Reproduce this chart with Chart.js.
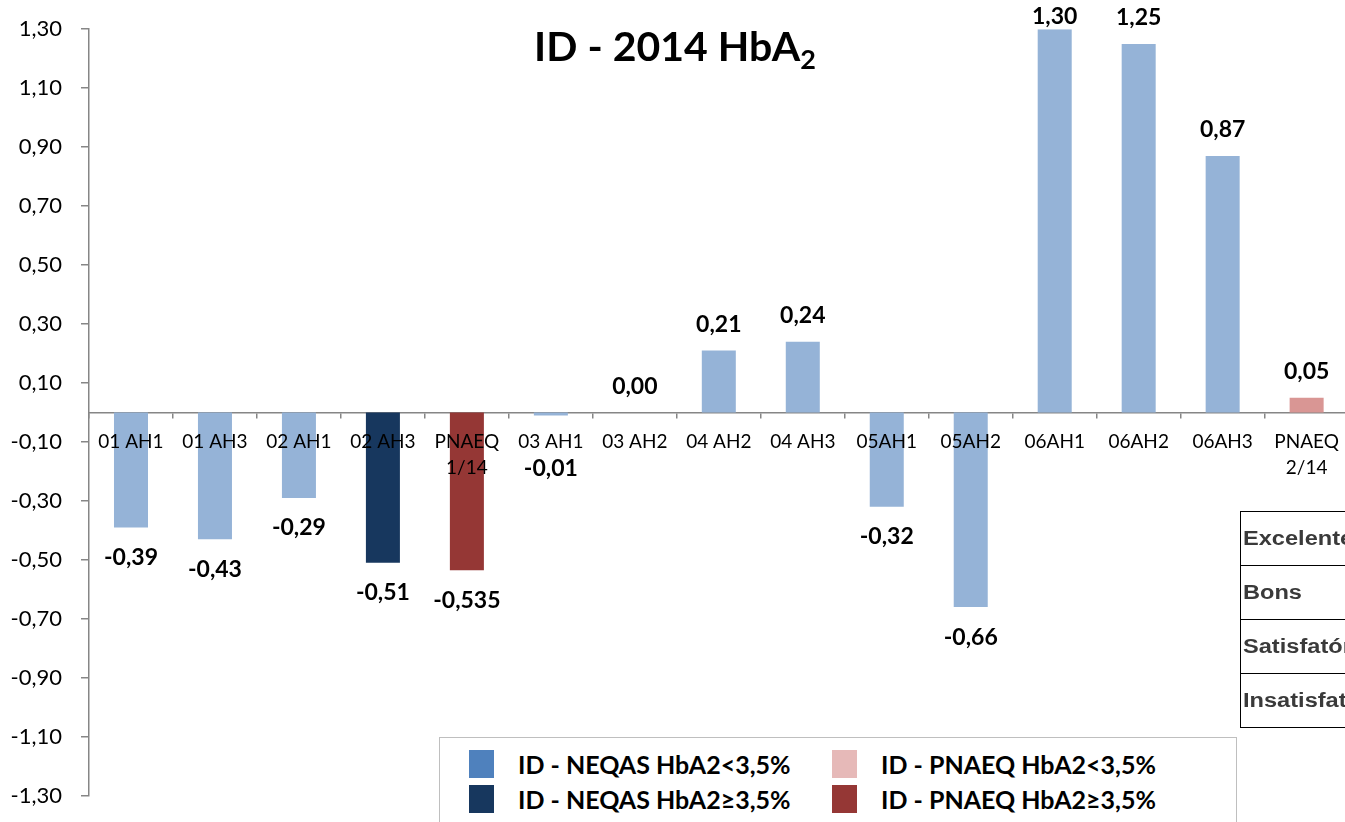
<!DOCTYPE html>
<html>
<head>
    <title>ID - 2014 HbA2</title>
    <script src="https://cdn.jsdelivr.net/npm/chart.js@4.4.1/dist/chart.umd.min.js"></script>
    <style>
        body {
            margin: 0;
            background: #fff;
            overflow: hidden;
            font-family: Lato, Arial, sans-serif;
        }
        .wrap {
            position: absolute;
            left: 0;
            top: -3px;
            width: 1350px;
            height: 831px;
        }
        .title {
            position: absolute;
            left: 0;
            width: 1350px;
            top: 21px;
            text-align: center;
            font: bold 41px Lato, sans-serif;
            color: #000;
            padding-right: 4px;
        }
        .title sub {
            font-size: 27px;
            vertical-align: -8px;
            line-height: 0;
        }
        .legend {
            position: absolute;
            left: 439px;
            top: 737px;
            width: 796px;
            height: 100px;
            border: 1.5px solid #bfbfbf;
            background: #fff;
        }
        .legend .item {
            position: absolute;
            font: bold 25px Lato, sans-serif;
            color: #000;
            white-space: nowrap;
            line-height: 28px;
        }
        .legend .sw {
            display: inline-block;
            width: 25px;
            height: 28px;
            vertical-align: top;
            margin-right: 24px;
        }
        .grades {
            position: absolute;
            left: 1240px;
            top: 511px;
            border-collapse: collapse;
        }
        .grades td {
            border: 1.5px solid #000;
            height: 53px;
            width: 220px;
            padding: 0 0 0 2px;
            font: bold 20px "Liberation Sans", Arial, sans-serif;
            color: #3a3a3a;
            white-space: nowrap;
        }
        .grades td span {
            display: inline-block;
            transform: scaleX(1.18);
            transform-origin: left center;
        }
    </style>
</head>
<body>
    <div class="wrap">
        <canvas id="chart"></canvas>
    </div>
    <div class="title">ID - 2014 HbA<sub>2</sub></div>
    <table class="grades" id="grades"></table>
    <div class="legend" id="legend"></div>

    <script>
        const categories = ['01 AH1', '01 AH3', '02 AH1', '02 AH3', ['PNAEQ', '1/14'], '03 AH1', '03 AH2',
            '04 AH2', '04 AH3', '05AH1', '05AH2', '06AH1', '06AH2', '06AH3', ['PNAEQ', '2/14']];

        const neqasLow  = [-0.39, -0.43, -0.29, null, null, -0.01, 0.00, 0.21, 0.24, -0.32, -0.66, 1.30, 1.25, 0.87, null];
        const neqasHigh = [null, null, null, -0.51, null, null, null, null, null, null, null, null, null, null, null];
        const pnaeqLow  = [null, null, null, null, null, null, null, null, null, null, null, null, null, null, 0.05];
        const pnaeqHigh = [null, null, null, null, -0.535, null, null, null, null, null, null, null, null, null, null];

        const seriesNames = ['ID - NEQAS HbA2<3,5%', 'ID - NEQAS HbA2≥3,5%', 'ID - PNAEQ HbA2<3,5%', 'ID - PNAEQ HbA2≥3,5%'];
        const barColors = ['#95b3d7', '#17375e', '#d99694', '#953735'];
        const legendColors = ['#4f81bd', '#17375e', '#e6b9b8', '#953735'];

        const grades = ['Excelente', 'Bons', 'Satisfatório', 'Insatisfatório'];

        const yMin = -1.3, yMax = 1.3, yStep = 0.2;

        function fmt(v) {
            const d = Math.abs(Math.round(v * 100) - v * 100) > 1e-6 ? 3 : 2;
            return v.toFixed(d).replace('.', ',');
        }

        // value labels at bar ends
        const valueLabels = {
            id: 'valueLabels',
            afterDatasetsDraw(chart) {
                const ctx = chart.ctx;
                const zero = chart.scales.y.getPixelForValue(0);
                ctx.save();
                ctx.font = 'bold 23px Lato, sans-serif';
                ctx.fillStyle = '#000';
                ctx.textAlign = 'center';
                ctx.textBaseline = 'middle';
                chart.data.datasets.forEach((ds, i) => {
                    chart.getDatasetMeta(i).data.forEach((el, j) => {
                        const v = ds.data[j];
                        if (v === null) return;
                        let y;
                        if (v >= 0) y = Math.max(el.y - 26, 20);
                        else y = Math.max(el.y + 30, zero + 56);
                        ctx.fillText(fmt(v), el.x, y);
                    });
                });
                ctx.restore();
            }
        };

        const datasets = [neqasLow, neqasHigh, pnaeqLow, pnaeqHigh].map((d, i) => ({
            label: seriesNames[i],
            data: d,
            backgroundColor: barColors[i],
            grouped: false,
            barPercentage: 0.405,
            categoryPercentage: 1
        }));

        const chart = new Chart(document.getElementById('chart'), {
            type: 'bar',
            data: { labels: categories, datasets: datasets },
            options: {
                responsive: true,
                maintainAspectRatio: false,
                animation: false,
                layout: { padding: { left: 0, right: 1, top: 26, bottom: 21 } },
                plugins: {
                    legend: { display: false },
                    title: { display: false },
                    tooltip: { enabled: false }
                },
                scales: {
                    x: {
                        position: { y: 0 },
                        offset: true,
                        grid: {
                            offset: true,
                            drawOnChartArea: false,
                            drawTicks: true,
                            tickLength: 5,
                            color: '#868686',
                            lineWidth: 1.5
                        },
                        border: { color: '#868686', width: 1.5 },
                        ticks: {
                            z: 1,
                            color: '#000',
                            padding: 11,
                            maxRotation: 0,
                            autoSkip: false,
                            font: { family: 'Lato', size: 19, lineHeight: 1.38 }
                        },
                        afterFit(s) { s.height = 0; }
                    },
                    y: {
                        min: yMin,
                        max: yMax,
                        grid: {
                            drawOnChartArea: false,
                            drawTicks: true,
                            tickLength: 8,
                            color: '#868686',
                            lineWidth: 1.5
                        },
                        border: { color: '#868686', width: 1.5 },
                        ticks: {
                            stepSize: yStep,
                            color: '#000',
                            padding: 19,
                            font: { family: 'Lato', size: 22 },
                            callback: v => v.toFixed(2).replace('.', ',')
                        },
                        afterFit(s) { s.width = 89; }
                    }
                }
            },
            plugins: [valueLabels]
        });

        // legend built from the chart's datasets
        const legendEl = document.getElementById('legend');
        const legendPos = [[29, 12], [29, 47], [392, 12], [392, 47]];
        chart.data.datasets.forEach((ds, i) => {
            const item = document.createElement('div');
            item.className = 'item';
            item.style.left = legendPos[i][0] + 'px';
            item.style.top = legendPos[i][1] + 'px';
            item.innerHTML = '<span class="sw" style="background:' + legendColors[i] + '"></span>';
            item.appendChild(document.createTextNode(ds.label));
            legendEl.appendChild(item);
        });

        const table = document.getElementById('grades');
        grades.forEach(g => {
            const tr = document.createElement('tr');
            const td = document.createElement('td');
            const sp = document.createElement('span');
            sp.textContent = g;
            td.appendChild(sp);
            tr.appendChild(td);
            table.appendChild(tr);
        });
    </script>
</body>
</html>
